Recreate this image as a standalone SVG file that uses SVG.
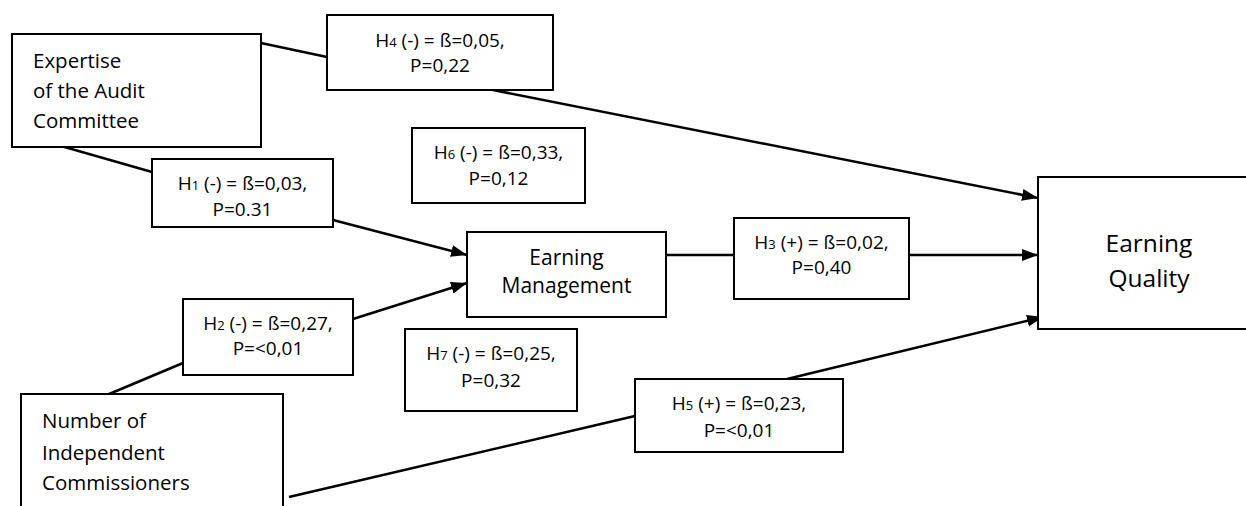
<svg xmlns="http://www.w3.org/2000/svg" width="1246" height="506" viewBox="0 0 1246 506">
<style>
  .box { fill: #ffffff; stroke: #000000; stroke-width: 2; }
  .lbl { font-family: "Open Sans", "Liberation Sans", sans-serif; font-size: 19px; fill: #000000; text-anchor: middle; }
  .sub { font-size: 13px; }
  .var { font-family: "Open Sans", "Liberation Sans", sans-serif; font-size: 20.5px; fill: #000000; }
  .mid { text-anchor: middle; }
  .conn { fill: none; stroke: #000000; stroke-width: 2.5; }
</style>
<defs>
  <marker id="arrow" markerUnits="userSpaceOnUse" markerWidth="17" markerHeight="13" refX="16" refY="6" orient="auto">
    <path d="M0,0 L16,6 L0,12 Z" fill="#000000"/>
  </marker>
</defs>
<rect width="1246" height="506" fill="#ffffff"/>

<g id="connectors">
  <line class="conn" x1="47" y1="142" x2="152" y2="172"/>
  <line class="conn" x1="333" y1="220" x2="467" y2="255" marker-end="url(#arrow)"/>
  <line class="conn" x1="102" y1="397" x2="183" y2="363"/>
  <line class="conn" x1="353" y1="319" x2="467" y2="283" marker-end="url(#arrow)"/>
  <line class="conn" x1="261" y1="43" x2="327" y2="57"/>
  <line class="conn" x1="493" y1="90" x2="1038" y2="198" marker-end="url(#arrow)"/>
  <line class="conn" x1="666" y1="255" x2="734" y2="255"/>
  <line class="conn" x1="909" y1="255" x2="1038" y2="255" marker-end="url(#arrow)"/>
  <line class="conn" x1="289" y1="497" x2="635" y2="416"/>
  <line class="conn" x1="787" y1="379" x2="1043" y2="317" marker-end="url(#arrow)"/>
</g>

<g id="expertise">
  <rect class="box" x="12" y="34" width="249" height="113"/>
  <text class="var" x="33" y="68">Expertise</text>
  <text class="var" x="33" y="98">of the Audit</text>
  <text class="var" x="33" y="128">Committee</text>
</g>

<g id="independent">
  <rect class="box" x="21" y="394" width="262" height="130"/>
  <text class="var" x="42" y="428">Number of</text>
  <text class="var" x="42" y="460">Independent</text>
  <text class="var" x="42" y="490">Commissioners</text>
</g>

<g id="earning-management">
  <rect class="box" x="467" y="232" width="199" height="85"/>
  <text class="var mid" x="566.5" y="265" style="font-size:21px">Earning</text>
  <text class="var mid" x="566.5" y="293" style="font-size:21px">Management</text>
</g>

<g id="earning-quality">
  <rect class="box" x="1038" y="177" width="230" height="152"/>
  <text class="var mid" x="1149" y="252" style="font-size:24.5px">Earning</text>
  <text class="var mid" x="1149" y="287" style="font-size:24.5px">Quality</text>
</g>

<g id="h1">
  <rect class="box" x="152" y="159" width="181" height="68"/>
  <text class="lbl" x="242.5" y="190">H<tspan class="sub">1</tspan> (-) = ß=0,03,</text>
  <text class="lbl" x="242.5" y="216">P=0.31</text>
</g>

<g id="h2">
  <rect class="box" x="183" y="299" width="170" height="76"/>
  <text class="lbl" x="268" y="330">H<tspan class="sub">2</tspan> (-) = ß=0,27,</text>
  <text class="lbl" x="268" y="355">P=&lt;0,01</text>
</g>

<g id="h3">
  <rect class="box" x="734" y="218" width="175" height="81"/>
  <text class="lbl" x="821.5" y="249">H<tspan class="sub">3</tspan> (+) = ß=0,02,</text>
  <text class="lbl" x="821.5" y="274">P=0,40</text>
</g>

<g id="h4">
  <rect class="box" x="327" y="15" width="226" height="75"/>
  <text class="lbl" x="440" y="47">H<tspan class="sub">4</tspan> (-) = ß=0,05,</text>
  <text class="lbl" x="440" y="72">P=0,22</text>
</g>

<g id="h5">
  <rect class="box" x="635" y="379" width="208" height="73"/>
  <text class="lbl" x="739" y="410">H<tspan class="sub">5</tspan> (+) = ß=0,23,</text>
  <text class="lbl" x="739" y="437">P=&lt;0,01</text>
</g>

<g id="h6">
  <rect class="box" x="412" y="128" width="173" height="75"/>
  <text class="lbl" x="498.5" y="159">H<tspan class="sub">6</tspan> (-) = ß=0,33,</text>
  <text class="lbl" x="498.5" y="185">P=0,12</text>
</g>

<g id="h7">
  <rect class="box" x="405" y="329" width="172" height="82"/>
  <text class="lbl" x="491" y="360">H<tspan class="sub">7</tspan> (-) = ß=0,25,</text>
  <text class="lbl" x="491" y="387">P=0,32</text>
</g>
</svg>
